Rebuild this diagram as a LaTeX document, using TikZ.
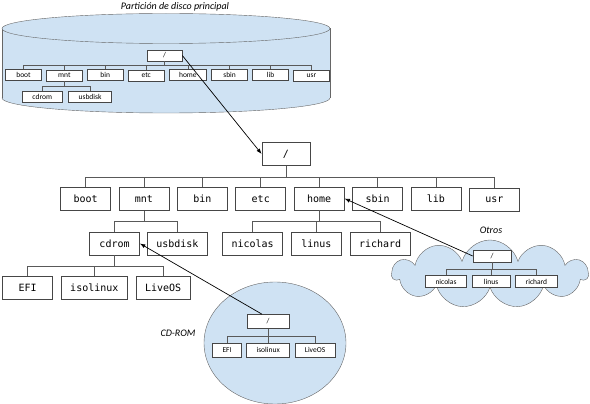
\documentclass[tikz,border=0pt]{standalone}
\usepackage{fontspec}
\setmainfont{Carlito}
\newfontfamily\monofont{DejaVu Sans Mono}
\usepackage{tikz}
\usetikzlibrary{positioning, arrows.meta}
\usetikzlibrary{matrix}
\usetikzlibrary{shapes.symbols}
\definecolor{diskblue}{RGB}{207,226,243}
\definecolor{boxline}{RGB}{70,70,70}

\begin{document}
\begin{tikzpicture}[x=1pt, y=-1pt,
    dirbox/.style={draw=boxline, fill=white, line width=0.7pt, font=\monofont\fontsize{10}{12}\selectfont,
                   minimum width=50pt, minimum height=23pt, inner xsep=9pt, inner ysep=0pt},
    smallbox/.style={draw=boxline, fill=white, line width=0.6pt, font=\fontsize{7.5}{9}\selectfont,
                     minimum height=11pt, inner xsep=10pt, inner ysep=0pt},
    rowof/.style={matrix of nodes, inner sep=0pt, anchor=west},
    link/.style={draw=black!65, line width=0.6pt},
    jump/.style={draw=black, line width=0.7pt, -{Latex[length=5.5pt, width=4pt]}},
    tag/.style={font=\itshape\fontsize{10}{12}\selectfont}]
    \useasboundingbox (0,0) rectangle (590,404);

    % disk partition (cylinder)
    \filldraw[fill=diskblue, draw=black!60] (166,98) ellipse [x radius=164, y radius=15];
    \fill[diskblue] (2,28.5) rectangle (330,98);
    \draw[black!60] (2,28.5) -- (2,98) (330,28.5) -- (330,98);
    \filldraw[fill=diskblue, draw=black!60] (166,28.5) ellipse [x radius=164, y radius=15];
    \node[tag] (disktag) at (175,7) {Partición de disco principal};

    \node[smallbox, minimum width=35pt] (droot) at (164.5,55.5) {/};
    \matrix (drow) [rowof, nodes={smallbox, minimum width=36pt}, column sep=4.3pt] at (5,75.5) {
      |(dboot)| boot & |(dmnt)| mnt & |(dbin)| bin & |(detc)| etc &
      |(dhome)| home & |(dsbin)| sbin & |(dlib)| lib & |(dusr)| usr \\
    };
    \foreach \c in {dboot,dmnt,dbin,detc,dhome,dsbin,dlib,dusr}
      \draw[link] (droot.south) -- ++(0,4.5) -| (\c.north);
    \matrix (dmntrow) [rowof, nodes={smallbox, minimum width=36pt}, column sep=6pt] at (22,97) {
      |(dcdrom)| cdrom & |(dusb)| usbdisk \\
    };
    \foreach \c in {dcdrom,dusb}
      \draw[link] (dmnt.south) -- ++(0,5.5) -| (\c.north);

    % main tree
    \node[dirbox, minimum width=48pt] (root) at (286,154) {/};
    \matrix (mainrow) [rowof, nodes={dirbox}, column sep=7.7pt] at (60,199) {
      |(boot)| boot & |(mnt)| mnt & |(bin)| bin & |(etc)| etc &
      |(home)| home & |(sbin)| sbin & |(lib)| lib & |(usr)| usr \\
    };
    \foreach \c in {boot,mnt,bin,etc,home,sbin,lib,usr}
      \draw[link] (root.south) -- ++(0,11.5) -| (\c.north);

    \matrix (mntrow) [rowof, nodes={dirbox}, column sep=7pt] at (89,243.5) {
      |(cdrom)| cdrom & |(usbdisk)| usbdisk \\
    };
    \foreach \c in {cdrom,usbdisk}
      \draw[link] (mnt.south) -- ++(0,10.7) -| (\c.north);

    \matrix (homerow) [rowof, nodes={dirbox}, column sep=8pt] at (222,243.5) {
      |(nicolas)| nicolas & |(linus)| linus & |(richard)| richard \\
    };
    \foreach \c in {nicolas,linus,richard}
      \draw[link] (home.south) -- ++(0,10.7) -| (\c.north);

    \matrix (cdromrow) [rowof, nodes={dirbox}, column sep=8pt] at (2,288) {
      |(efi)| EFI & |(isolinux)| isolinux & |(liveos)| LiveOS \\
    };
    \foreach \c in {efi,isolinux,liveos}
      \draw[link] (cdrom.south) -- ++(0,10.7) -| (\c.north);

    % CD-ROM
    \filldraw[fill=diskblue, draw=black!60] (275,343) ellipse [x radius=71, y radius=61];
    \node[tag] (cdtag) at (178,333) {CD-ROM};
    \node[smallbox, minimum width=42pt, minimum height=14pt] (cdroot) at (268,321.5) {/};
    \matrix (cdrow) [rowof, nodes={smallbox, minimum height=14pt}, column sep=4.5pt] at (212,350) {
      |(cdefi)| EFI & |(cdiso)| isolinux & |(cdlive)| LiveOS \\
    };
    \foreach \c in {cdefi,cdiso,cdlive}
      \draw[link] (cdroot.south) -- ++(0,7) -| (\c.north);

    % other disk (cloud)
    \node[cloud, cloud puffs=11, cloud ignores aspect, minimum width=196pt, minimum height=68pt,
          fill=diskblue, draw=black!60] (cloud) at (490,274) {};
    \node[tag] (othtag) at (491,230) {Otros};
    \node[smallbox, minimum width=38pt, minimum height=12pt] (oroot) at (492,256) {/};
    \matrix (orow) [rowof, nodes={smallbox, minimum width=38pt, minimum height=12pt}, column sep=5pt] at (425,281.5) {
      |(onic)| nicolas & |(olin)| linus & |(oric)| richard \\
    };
    \foreach \c in {onic,olin,oric}
      \draw[link] (oroot.south) -- ++(0,7) -| (\c.north);

    % mount points
    \draw[jump] (droot.east) -- (root.west);
    \draw[jump] (oroot.west) -- (home.east);
    \draw[jump] ([xshift=-6pt]cdroot.north) -- (cdrom.east);
\end{tikzpicture}
\end{document}
